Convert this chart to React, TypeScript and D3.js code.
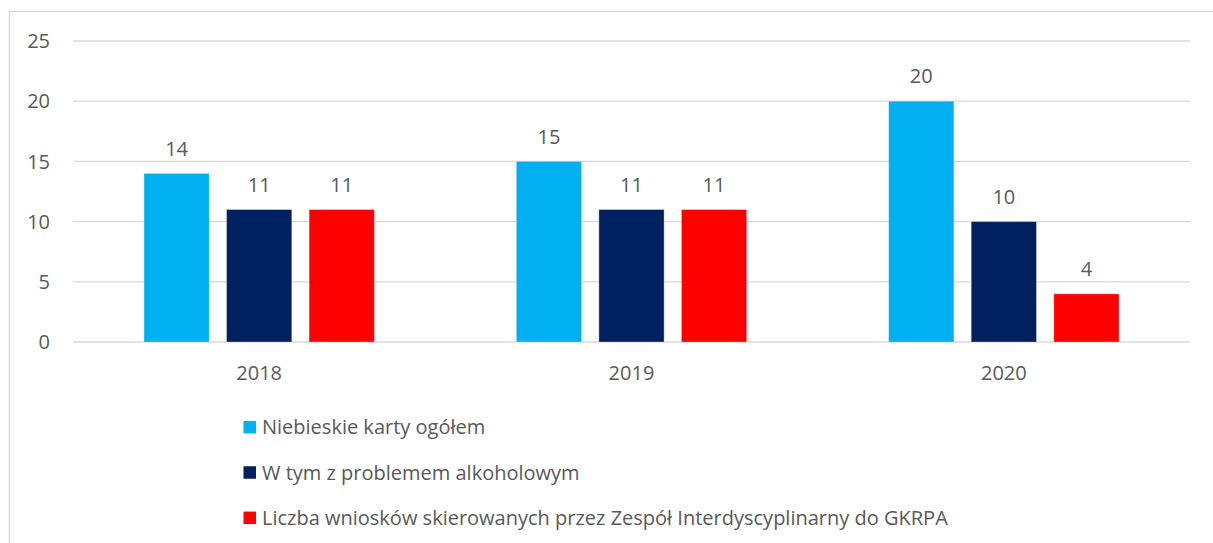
import React from 'react';
import { scaleBand, scaleLinear } from 'd3';

const years = ['2018', '2019', '2020'];
const seriesNames = [
  'Niebieskie karty ogółem',
  'W tym z problemem alkoholowym',
  'Liczba wniosków skierowanych przez Zespół Interdyscyplinarny do GKRPA'
];
const niebieskieKarty = [14, 15, 20];
const problemAlkoholowy = [11, 11, 10];
const wnioskiGkrpa = [11, 11, 4];
const yTicks = [0, 5, 10, 15, 20, 25];

const COLORS = ['#00B0F0', '#002060', '#FF0000'];
const FONT = '"Open Sans", sans-serif';
const TEXT = '#595959';

const App = () => {
  const width = 1213;
  const height = 543;
  const left = 73;
  const right = 1190;
  const top = 41;
  const bottom = 342;

  const values = [niebieskieKarty, problemAlkoholowy, wnioskiGkrpa];

  const x0 = scaleBand().domain(years).range([left, right]);
  const x1 = scaleBand()
    .domain(seriesNames)
    .range([0, x0.bandwidth()])
    .paddingInner(0.21)
    .paddingOuter(0.86);
  const y = scaleLinear().domain([0, 25]).range([bottom, top]);

  const legendY = scaleBand().domain(seriesNames).range([404.5, 540.5]);

  return (
    <svg
      width={width}
      height={height}
      style={{ position: 'absolute', left: 0, top: 0, background: '#fff' }}
      fontFamily={FONT}
    >
      {/* chart area border, partly clipped */}
      <path d={`M9.5,${height} V11.5 H${width}`} fill="none" stroke="#d9d9d9" strokeWidth={1.5} />

      {yTicks.map(t => (
        <g key={t}>
          <line x1={left} x2={right} y1={y(t)} y2={y(t)} stroke="#d9d9d9" strokeWidth={1.3} />
          <text x={50} y={y(t)} dy="0.36em" textAnchor="end" fontSize={20} fill={TEXT}>{t}</text>
        </g>
      ))}

      {years.map((yr, i) => (
        <g key={yr} transform={`translate(${x0(yr)},0)`}>
          {seriesNames.map((s, j) => {
            const v = values[j][i];
            const bx = x1(s) as number;
            return (
              <g key={s}>
                <rect
                  x={bx}
                  y={y(v)}
                  width={x1.bandwidth()}
                  height={bottom - y(v)}
                  fill={COLORS[j]}
                  stroke="#fff"
                  strokeOpacity={0.3}
                  strokeWidth={1}
                />
                <text
                  x={bx + x1.bandwidth() / 2}
                  y={y(v) - 25}
                  dy="0.36em"
                  textAnchor="middle"
                  fontSize={20}
                  fill={TEXT}
                >
                  {v}
                </text>
              </g>
            );
          })}
          <text
            x={x0.bandwidth() / 2}
            y={373}
            dy="0.36em"
            textAnchor="middle"
            fontSize={20}
            fill={TEXT}
          >
            {yr}
          </text>
        </g>
      ))}

      {seriesNames.map((s, j) => {
        const ly = (legendY(s) as number) + legendY.bandwidth() / 2;
        return (
          <g key={s}>
            <rect x={243.5} y={ly - 6.25} width={12.5} height={12.5} fill={COLORS[j]} />
            <text x={262} y={ly} dy="0.36em" fontSize={20} fill={TEXT}>{s}</text>
          </g>
        );
      })}
    </svg>
  );
};

export default App;
